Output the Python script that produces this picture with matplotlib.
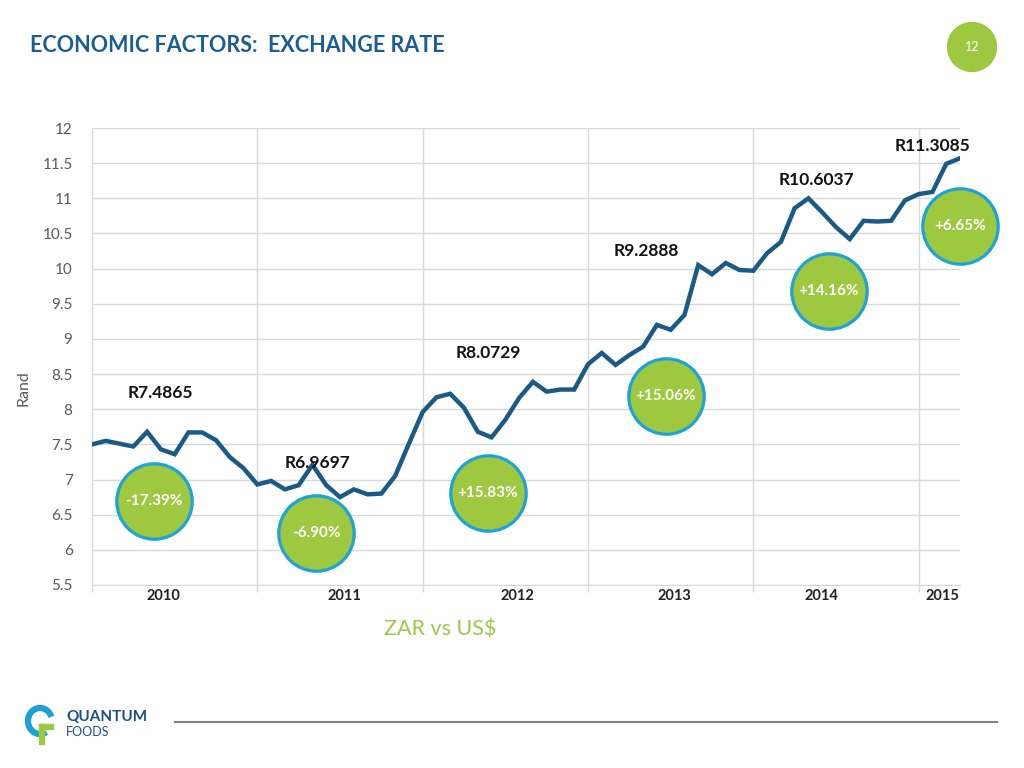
import matplotlib
matplotlib.use('Agg')
import matplotlib.pyplot as plt
from matplotlib.patches import Arc, Rectangle

plt.rcParams['font.family'] = ['Lato', 'DejaVu Sans']

# monthly ZAR per US$ , Jan 2010 - Apr 2015
rand_usd = [7.50, 7.55, 7.51, 7.47, 7.68, 7.43, 7.36, 7.67, 7.67, 7.56, 7.32, 7.16,
            6.93, 6.98, 6.86, 6.92, 7.21, 6.92, 6.75, 6.86, 6.79, 6.80, 7.05, 7.51,
            7.96, 8.17, 8.22, 8.02, 7.68, 7.60, 7.85, 8.16, 8.39, 8.25, 8.28, 8.28,
            8.64, 8.80, 8.63, 8.77, 8.89, 9.20, 9.13, 9.34, 10.05, 9.92, 10.08, 9.98,
            9.97, 10.22, 10.38, 10.86, 11.00, 10.80, 10.59, 10.42, 10.68, 10.67, 10.68, 10.97,
            11.06, 11.09, 11.49, 11.57]
months = list(range(len(rand_usd)))

years = ['2010', '2011', '2012', '2013', '2014', '2015']
year_x = [5.15, 18.35, 30.9, 42.3, 52.97, 61.76]

price_labels = ['R7.4865', 'R6.9697', 'R8.0729', 'R9.2888', 'R10.6037', 'R11.3085']
price_x = [4.94, 16.4, 28.74, 40.2, 52.6, 61.04]
price_y = [8.23, 7.23, 8.80, 10.25, 11.26, 11.74]

change_labels = ['-17.39%', '-6.90%', '+15.83%', '+15.06%', '+14.16%', '+6.65%']
change_x = [4.5, 16.26, 28.74, 41.66, 53.49, 63.0]
change_y = [6.69, 6.24, 6.81, 8.19, 9.68, 10.61]

yticks = [5.5, 6, 6.5, 7, 7.5, 8, 8.5, 9, 9.5, 10, 10.5, 11, 11.5, 12]

green = '#9dc83f'
blue_edge = '#1ea3d8'
line_col = '#1b5a87'
grid_col = '#d9d9d9'

fig = plt.figure(figsize=(10.24, 7.68), dpi=100)
ax = fig.add_axes([92/1024, 1-585/768, 868/1024, 457/768])

ax.plot(months, rand_usd, color=line_col, lw=3.2, solid_joinstyle='miter', zorder=3)

ax.set_xlim(0, 63)
ax.set_ylim(5.5, 12)
ax.set_yticks(yticks)
ax.set_yticklabels(['%g' % t for t in yticks], fontsize=11, color='#595959')
ax.set_xticks([0, 12, 24, 36, 48, 60])
ax.set_xticklabels([])
ax.tick_params(axis='y', length=0, pad=14)
ax.tick_params(axis='x', length=5, color=grid_col, width=1)
ax.grid(True, color=grid_col, lw=1)
ax.set_axisbelow(True)
for s in ['top', 'right']:
    ax.spines[s].set_visible(False)
for s in ['left', 'bottom']:
    ax.spines[s].set_color(grid_col)
ax.set_ylabel('Rand', fontsize=11.5, color='#595959')
ax.yaxis.set_label_coords(-0.071, 0.43)

# year labels under the axis
for yr, x in zip(years, year_x):
    ax.text(x, -0.008, yr, transform=ax.get_xaxis_transform(), ha='center', va='top',
            fontsize=10.5, fontweight='bold', color='#222222')

# price annotations
for lab, x, y in zip(price_labels, price_x, price_y):
    ax.text(x, y, lab, ha='center', va='center', fontsize=12.5, fontweight='bold',
            color='#111111', zorder=5)

# change bubbles
ax.scatter(change_x, change_y, s=2950, color=green, edgecolor=blue_edge, linewidth=2.3,
           zorder=4, clip_on=False)
for lab, x, y in zip(change_labels, change_x, change_y):
    ax.text(x, y, lab, ha='center', va='center', fontsize=11, fontweight='bold',
            color='white', zorder=6, clip_on=False)

# title and page number
fig.text(30/1024, 1-45/768, 'ECONOMIC FACTORS:  EXCHANGE RATE', fontsize=15.5,
         fontweight='bold', color='#1b5c91', ha='left', va='center')
pg = fig.add_axes([947/1024, 1-72/768, 50/1024, 50/768])
pg.set_xlim(-1, 1); pg.set_ylim(-1, 1); pg.axis('off')
pg.add_patch(plt.Circle((0, 0), 0.98, color=green))
pg.text(0, 0, '12', ha='center', va='center', fontsize=9, color='white')

fig.text(440/1024, 1-630/768, 'ZAR vs US$', fontsize=15.5, color='#9cc94a',
         ha='center', va='center')

# footer: logo + rule
fig.add_artist(plt.Line2D([175/1024, 997/1024], [1-722/768, 1-722/768],
                          color='#808080', lw=1.5))
lg = fig.add_axes([25/1024, 1-748/768, 40/1024, 46/768])
lg.set_xlim(0, 40); lg.set_ylim(0, 46); lg.axis('off')
lg.add_patch(Arc((15, 27), 24, 26, theta1=20, theta2=300, color='#1e9fd6', lw=4.5))
lg.add_patch(Rectangle((14, 4), 5, 20, color='#9dc83f'))
lg.add_patch(Rectangle((14, 19), 14, 5, color='#9dc83f'))
fig.text(66/1024, 1-717/768, 'QUANTUM', fontsize=11, fontweight='bold', color='#1b4f80',
         ha='left', va='center')
fig.text(66/1024, 1-732/768, 'FOODS', fontsize=9, color='#1b4f80', ha='left', va='center')

fig.savefig('out.png', dpi=100)
